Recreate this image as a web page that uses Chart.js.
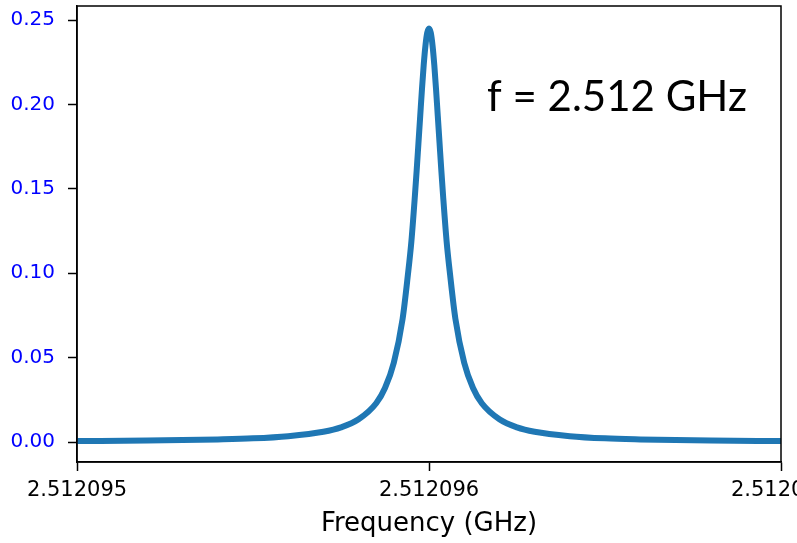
<!DOCTYPE html>
<html>
<head>
<meta charset="utf-8">
<script src="https://cdn.jsdelivr.net/npm/chart.js@4"></script>
<style>
  html, body { margin: 0; padding: 0; background: #fff; overflow: hidden; }
  #wrap { width: 850px; height: 543px; }
</style>
</head>
<body>
<div id="wrap"><canvas id="chart"></canvas></div>
<script>
// Dados (frequência em GHz, amplitude)
const freqGHz = [
  2.512095000, 2.512095200, 2.512095400, 2.512095500, 2.512095600, 2.512095700,
  2.512095750, 2.512095800, 2.512095850, 2.512095875, 2.512095900, 2.512095925,
  2.512095940, 2.512095950, 2.512095960, 2.512095965, 2.512095970, 2.512095975,
  2.512095980, 2.512095985, 2.512095990, 2.512095995,
  2.512096000,
  2.512096005, 2.512096010, 2.512096015, 2.512096020, 2.512096025, 2.512096030,
  2.512096035, 2.512096040, 2.512096050, 2.512096060, 2.512096075, 2.512096100,
  2.512096125, 2.512096150, 2.512096200, 2.512096250, 2.512096300, 2.512096400,
  2.512096500, 2.512096600, 2.512096800, 2.512097000
];
const amplitude = [
  0.0006, 0.0009, 0.0016, 0.0022, 0.0035, 0.0061,
  0.0087, 0.0135, 0.0230, 0.0320, 0.0470, 0.0730,
  0.0990, 0.1190, 0.1460, 0.1610, 0.1770, 0.1930,
  0.2090, 0.2235, 0.2350, 0.2425,
  0.2450,
  0.2425, 0.2350, 0.2235, 0.2090, 0.1930, 0.1770,
  0.1610, 0.1460, 0.1190, 0.0990, 0.0730, 0.0470,
  0.0320, 0.0230, 0.0135, 0.0087, 0.0061, 0.0035,
  0.0022, 0.0016, 0.0009, 0.0006
];
const xTicks = [2.512095, 2.512096, 2.512097];
const yTicks = [0.00, 0.05, 0.10, 0.15, 0.20, 0.25];
const annotationText = 'f = 2.512 GHz';

const points = freqGHz.map((f, i) => ({ x: f, y: amplitude[i] }));

// Moldura completa + texto anotado
const framePlugin = {
  id: 'frame',
  afterDraw(chart) {
    const { ctx, chartArea: a } = chart;
    ctx.save();
    ctx.strokeStyle = '#000';
    ctx.lineWidth = 1.5;
    ctx.strokeRect(a.left, a.top, a.right - a.left, a.bottom - a.top);
    ctx.fillStyle = '#000';
    ctx.font = '42px Lato, "Open Sans", sans-serif';
    ctx.textBaseline = 'alphabetic';
    ctx.fillText(annotationText, 487, 111);
    ctx.restore();
  }
};

new Chart(document.getElementById('chart').getContext('2d'), {
  type: 'line',
  data: {
    datasets: [
      {
        data: points,
        borderColor: '#1f77b4',
        borderWidth: 6,
        pointRadius: 0,
        cubicInterpolationMode: 'monotone',
        fill: false
      },
      {
        data: points,
        borderColor: 'rgba(15, 45, 75, 0.55)',
        borderWidth: 1,
        borderDash: [1, 2],
        pointRadius: 0,
        cubicInterpolationMode: 'monotone',
        fill: false
      }
    ]
  },
  options: {
    responsive: true,
    maintainAspectRatio: false,
    animation: false,
    layout: { padding: { left: 0, right: 69, top: 6, bottom: 0 } },
    plugins: { legend: { display: false }, tooltip: { enabled: false } },
    scales: {
      x: {
        type: 'linear',
        min: 2.512095,
        max: 2.512097,
        afterBuildTicks: axis => { axis.ticks = xTicks.map(v => ({ value: v })); },
        afterFit: axis => { axis.height = 81; axis.paddingLeft = 0; axis.paddingRight = 0; },
        ticks: {
          color: '#000',
          padding: 7,
          maxRotation: 0,
          autoSkip: false,
          font: { family: '"DejaVu Sans"', size: 21 },
          callback: v => v.toFixed(6)
        },
        grid: { drawOnChartArea: false, tickLength: 9, tickColor: '#000', tickWidth: 1.5 },
        border: { display: true, color: '#000', width: 1.5 },
        title: {
          display: true,
          text: 'Frequency (GHz)',
          color: '#000',
          font: { family: '"DejaVu Sans"', size: 26 },
          padding: { top: 0, bottom: 3 }
        }
      },
      y: {
        min: -0.0118,
        max: 0.2583,
        afterBuildTicks: axis => { axis.ticks = yTicks.map(v => ({ value: v })); },
        afterFit: axis => { axis.width = 77; axis.paddingTop = 0; axis.paddingBottom = 0; },
        ticks: {
          color: '#0000ff',
          padding: 13,
          font: { family: '"DejaVu Sans"', size: 20 },
          callback: v => v.toFixed(2)
        },
        grid: { drawOnChartArea: false, tickLength: 9, tickColor: '#000', tickWidth: 1.5 },
        border: { display: true, color: '#000', width: 1.5 }
      }
    }
  },
  plugins: [framePlugin]
});
</script>
</body>
</html>
